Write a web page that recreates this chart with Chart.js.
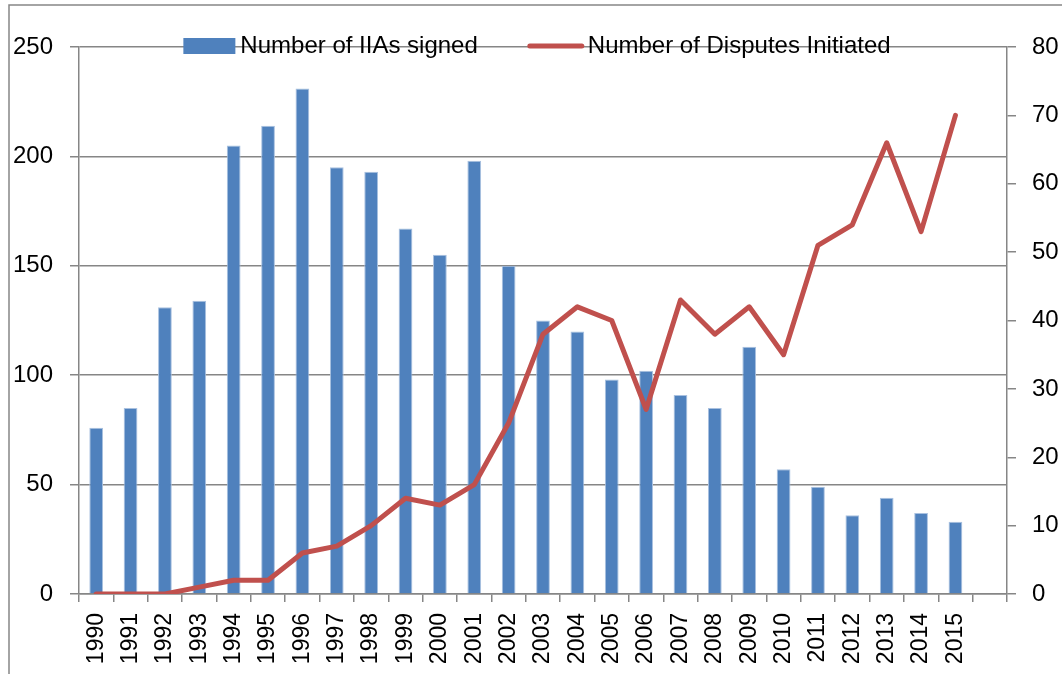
<!DOCTYPE html>
<html>

<head>
  <meta charset="UTF-8" />
  <title>IIAs and Disputes</title>
  <script src="https://cdn.jsdelivr.net/npm/chart.js"></script>
  <style>
    body { margin: 0; background: #fff; }
    #wrap { width: 1062px; height: 674px; }
  </style>
</head>

<body>
  <div id="wrap">
    <canvas id="mainChart" width="1062" height="674"></canvas>
  </div>
  <script>
    // years on the category axis, last slot left empty
    const years = ["1990", "1991", "1992", "1993", "1994", "1995", "1996", "1997", "1998", "1999",
      "2000", "2001", "2002", "2003", "2004", "2005", "2006", "2007", "2008", "2009",
      "2010", "2011", "2012", "2013", "2014", "2015", ""];
    const iiasSigned = [76, 85, 131, 134, 205, 214, 231, 195, 193, 167,
      155, 198, 150, 125, 120, 98, 102, 91, 85, 113,
      57, 49, 36, 44, 37, 33];
    const disputes = [0, 0, 0, 1, 2, 2, 6, 7, 10, 14,
      13, 16, 25, 38, 42, 40, 27, 43, 38, 42,
      35, 51, 54, 66, 53, 70];
    const leftTicks = [0, 50, 100, 150, 200, 250];
    const rightTicks = [0, 10, 20, 30, 40, 50, 60, 70, 80];

    const barColor = "#4F81BD";
    const lineColor = "#C0504D";
    const gridColor = "#868686";
    const font = "'Liberation Sans', Arial, sans-serif";

    // outer frame and legend drawn by hand
    const framePlugin = {
      id: "frame",
      beforeDraw(chart) {
        const c = chart.ctx;
        c.save();
        c.fillStyle = "#fff";
        c.fillRect(0, 0, chart.width, chart.height);
        c.strokeStyle = gridColor;
        c.lineWidth = 1.5;
        c.beginPath();
        c.moveTo(9, chart.height);
        c.lineTo(9, 5);
        c.lineTo(chart.width, 5);
        c.stroke();
        c.restore();
      },
      afterDraw(chart) {
        const c = chart.ctx;
        const area = chart.chartArea;
        const label1 = chart.data.datasets[1].label;
        const label2 = chart.data.datasets[0].label;
        c.save();
        c.font = "24px " + font;
        c.textBaseline = "middle";
        const w1 = 52 + 5 + c.measureText(label1).width;
        const w2 = 56 + 4 + c.measureText(label2).width;
        const gap = 50;
        let x = (area.left + area.right) / 2 - 6 - (w1 + gap + w2) / 2;
        const y = area.top - 1;
        c.fillStyle = barColor;
        c.fillRect(x, y - 8, 52, 16);
        c.fillStyle = "#000";
        c.fillText(label1, x + 57, y);
        x += w1 + gap;
        c.strokeStyle = lineColor;
        c.lineWidth = 5;
        c.lineCap = "round";
        c.beginPath();
        c.moveTo(x + 2, y);
        c.lineTo(x + 54, y);
        c.stroke();
        c.fillText(label2, x + 60, y);
        c.restore();
      }
    };

    const ctx = document.getElementById("mainChart").getContext("2d");
    new Chart(ctx, {
      type: "bar",
      data: {
        labels: years,
        datasets: [
          {
            type: "line",
            label: "Number of Disputes Initiated",
            data: disputes,
            yAxisID: "y1",
            borderColor: lineColor,
            borderWidth: 5,
            borderCapStyle: "round",
            borderJoinStyle: "round",
            pointRadius: 0,
            tension: 0,
            fill: false,
            order: 0,
          },
          {
            type: "bar",
            label: "Number of IIAs signed",
            data: iiasSigned,
            yAxisID: "y",
            backgroundColor: barColor,
            borderColor: "#A9C1E0",
            borderWidth: { top: 1, left: 1, right: 1, bottom: 0 },
            categoryPercentage: 1,
            barPercentage: 0.4,
            order: 1,
          },
        ],
      },
      options: {
        responsive: false,
        animation: false,
        layout: { padding: { top: 47, left: 0, right: 0, bottom: 0 } },
        plugins: {
          legend: { display: false },
          tooltip: { enabled: false },
        },
        scales: {
          x: {
            afterFit(scale) { scale.height = 80; },
            grid: {
              offset: true,
              drawOnChartArea: false,
              color: gridColor,
              lineWidth: 1.5,
              tickLength: 8,
            },
            border: { color: gridColor, width: 1.5 },
            ticks: {
              autoSkip: false,
              maxRotation: 90,
              minRotation: 90,
              padding: 11,
              color: "#000",
              font: { family: font, size: 23 },
            },
          },
          y: {
            position: "left",
            min: 0,
            max: 250,
            afterFit(scale) { scale.width = 79; },
            afterBuildTicks(scale) { scale.ticks = leftTicks.map(v => ({ value: v })); },
            grid: { color: gridColor, lineWidth: 1.5, tickLength: 9 },
            border: { color: gridColor, width: 1.5 },
            ticks: {
              padding: 17,
              color: "#000",
              font: { family: font, size: 24 },
            },
          },
          y1: {
            position: "right",
            min: 0,
            max: 80,
            afterFit(scale) { scale.width = 55; },
            afterBuildTicks(scale) { scale.ticks = rightTicks.map(v => ({ value: v })); },
            grid: { drawOnChartArea: false, color: gridColor, lineWidth: 1.5, tickLength: 9 },
            border: { color: gridColor, width: 1.5 },
            ticks: {
              padding: 16,
              color: "#000",
              font: { family: font, size: 24 },
            },
          },
        },
      },
      plugins: [framePlugin],
    });
  </script>
</body>

</html>
